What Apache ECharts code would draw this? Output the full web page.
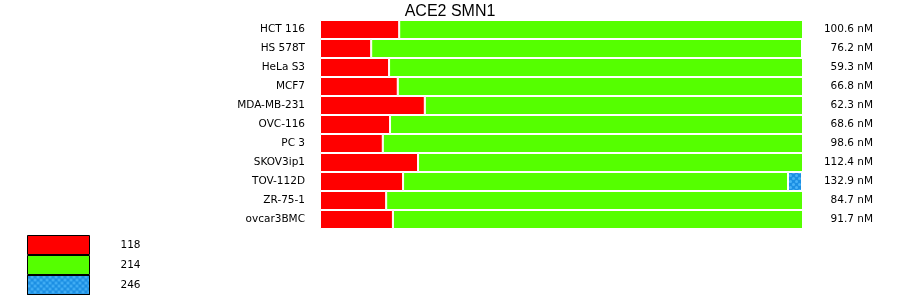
<!DOCTYPE html>
<html>
<head>
<meta charset="utf-8">
<script src="https://cdn.jsdelivr.net/npm/echarts@6/dist/echarts.min.js"></script>
<style>html,body{margin:0;padding:0;background:#fff}#c{width:900px;height:299px}</style>
</head>
<body>
<div id="c"></div>
<script>
const title = 'ACE2 SMN1';
const cellLines = ['HCT 116','HS 578T','HeLa S3','MCF7','MDA-MB-231','OVC-116','PC 3','SKOV3ip1','TOV-112D','ZR-75-1','ovcar3BMC'];
const concLabels = ['100.6 nM','76.2 nM','59.3 nM','66.8 nM','62.3 nM','68.6 nM','98.6 nM','112.4 nM','132.9 nM','84.7 nM','91.7 nM'];
const seriesNames = ['118','214','246'];
// percentage shares of each bar
const s118 = [16.4, 10.6, 14.3, 16.1, 21.7, 14.5, 13.0, 20.3, 17.2, 13.7, 15.1];
const s214 = [83.6, 89.2, 85.7, 83.9, 78.3, 85.5, 87.0, 79.7, 79.7, 86.3, 84.9];
const s246 = [0, 0, 0, 0, 0, 0, 0, 0, 2.9, 0, 0];
const colors = ['#ff0000', '#55ff00', '#1c8fe3'];

const chart = echarts.init(document.getElementById('c'), null, {renderer: 'canvas'});
const tfont = 'Liberation Sans, Arial, sans-serif';
const font = 'DejaVu Sans, Verdana, sans-serif';
const fs = 10.5;
const dataSets = [s118, s214, s246];
chart.setOption({
  animation: false,
  title: {text: title, left: 'center', top: -1, textStyle: {fontFamily: tfont, fontSize: 16, fontWeight: 'normal', color: '#000'}},
  grid: {left: 320, top: 20, width: 483, height: 209},
  xAxis: {type: 'value', min: 0, max: 100, show: false},
  yAxis: [
    {type: 'category', inverse: true, data: cellLines, axisLine: {show: false}, axisTick: {show: false},
     axisLabel: {margin: 15, fontFamily: font, fontSize: fs, color: '#000'}},
    {type: 'category', inverse: true, position: 'right', data: concLabels, axisLine: {show: false}, axisTick: {show: false},
     axisLabel: {margin: 70, align: 'right', fontFamily: font, fontSize: fs, color: '#000'}}
  ],
  legend: {
    orient: 'vertical', left: 27, top: 235, height: 64, padding: 0, itemWidth: 62, itemHeight: 19, itemGap: 0,
    icon: 'rect', data: seriesNames,
    itemStyle: {borderColor: '#000', borderWidth: 1},
    textStyle: {fontFamily: font, fontSize: fs, color: '#000', padding: [0, 0, 0, 26]}
  },
  series: seriesNames.map((n, i) => ({
    name: n, type: 'bar', stack: 'a', data: dataSets[i], barWidth: 19,
    itemStyle: Object.assign({color: colors[i], borderColor: '#fff', borderWidth: 1},
      i === 2 ? {decal: {symbol: 'circle', symbolSize: 1, color: '#48b2f7', dashArrayX: [[3, 3], [0, 3, 3, 0]], dashArrayY: [3, 0]}} : {})
  }))
});
</script>
</body>
</html>
